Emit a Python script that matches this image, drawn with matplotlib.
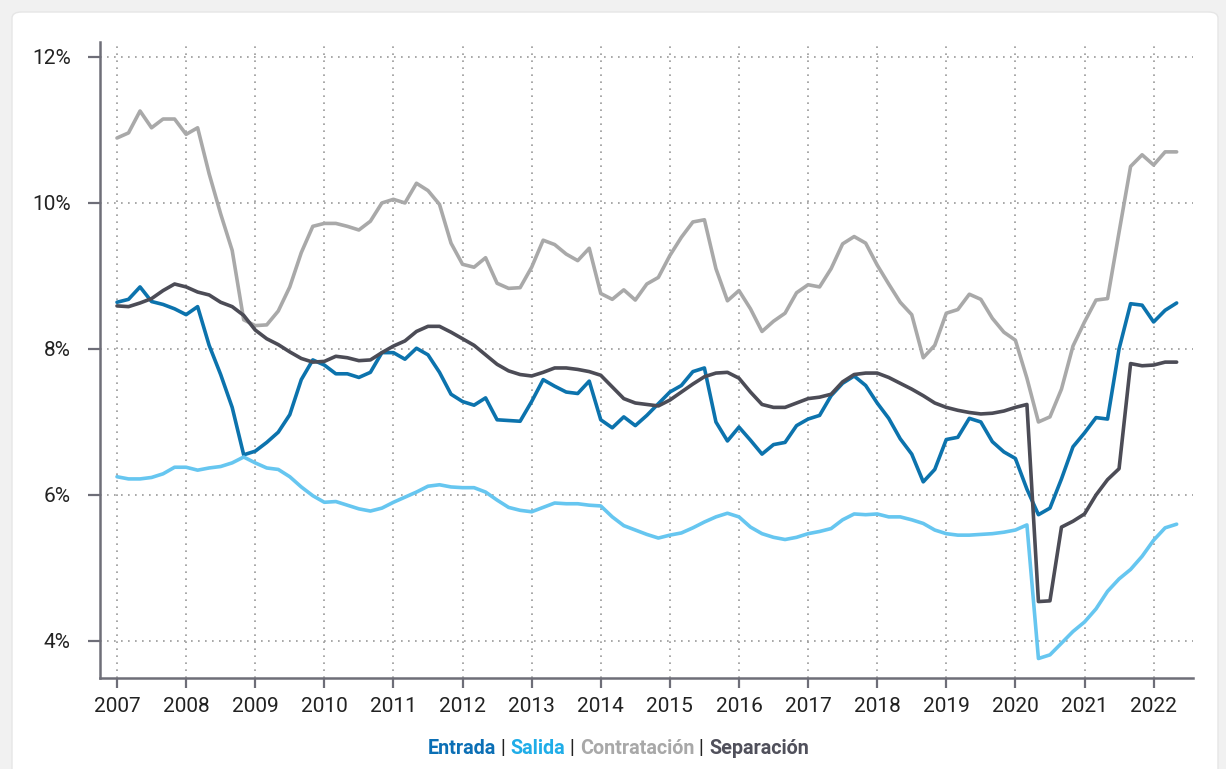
import numpy as np
import pandas as pd
import matplotlib
matplotlib.use("Agg")
import matplotlib.pyplot as plt
from matplotlib.patches import FancyBboxPatch
from matplotlib.offsetbox import TextArea, HPacker, AnchoredOffsetbox

plt.rcParams['font.family'] = ['Roboto', 'DejaVu Sans']

# ---------------- data (bimonthly, Jan 2007 - May 2022) ----------------
dates = pd.date_range('2007-01-01', '2022-05-01', freq='2MS')

entrada = [
    8.64, 8.68, 8.85, 8.65, 8.61, 8.55,
    8.47, 8.58, 8.05, 7.65, 7.20, 6.55,
    6.60, 6.72, 6.86, 7.10, 7.58, 7.85,
    7.78, 7.66, 7.66, 7.61, 7.68, 7.95,
    7.95, 7.86, 8.01, 7.92, 7.68, 7.38,
    7.28, 7.23, 7.33, 7.03, 7.02, 7.01,
    7.28, 7.58, 7.49, 7.41, 7.39, 7.56,
    7.03, 6.92, 7.07, 6.95, 7.09, 7.25,
    7.41, 7.50, 7.69, 7.74, 7.00, 6.74,
    6.93, 6.75, 6.56, 6.69, 6.72, 6.95,
    7.04, 7.09, 7.36, 7.53, 7.63, 7.50,
    7.26, 7.05, 6.77, 6.56, 6.18, 6.35,
    6.76, 6.79, 7.05, 7.00, 6.73, 6.59,
    6.50, 6.08, 5.73, 5.82, 6.22, 6.66,
    6.85, 7.06, 7.04, 8.00, 8.62, 8.60,
    8.37, 8.53, 8.63,
]

salida = [
    6.25, 6.22, 6.22, 6.24, 6.29, 6.38,
    6.38, 6.34, 6.37, 6.39, 6.44, 6.52,
    6.44, 6.37, 6.35, 6.25, 6.11, 5.99,
    5.90, 5.91, 5.86, 5.81, 5.78, 5.82,
    5.90, 5.97, 6.04, 6.12, 6.14, 6.11,
    6.10, 6.10, 6.04, 5.93, 5.83, 5.79,
    5.77, 5.83, 5.89, 5.88, 5.88, 5.86,
    5.85, 5.70, 5.58, 5.52, 5.46, 5.41,
    5.45, 5.48, 5.55, 5.63, 5.70, 5.75,
    5.70, 5.56, 5.47, 5.42, 5.39, 5.42,
    5.47, 5.50, 5.54, 5.66, 5.74, 5.73,
    5.74, 5.70, 5.70, 5.66, 5.61, 5.52,
    5.47, 5.45, 5.45, 5.46, 5.47, 5.49,
    5.52, 5.59, 3.76, 3.81, 3.97, 4.13,
    4.26, 4.44, 4.68, 4.85, 4.98, 5.16,
    5.38, 5.55, 5.60,
]

contratacion = [
    10.89, 10.96, 11.26, 11.03, 11.15, 11.15,
    10.94, 11.03, 10.40, 9.85, 9.35, 8.40,
    8.32, 8.33, 8.52, 8.85, 9.32, 9.68,
    9.72, 9.72, 9.68, 9.63, 9.75, 10.00,
    10.05, 10.00, 10.27, 10.17, 9.98, 9.45,
    9.16, 9.12, 9.25, 8.90, 8.83, 8.84,
    9.12, 9.49, 9.43, 9.30, 9.21, 9.38,
    8.76, 8.68, 8.81, 8.67, 8.89, 8.98,
    9.28, 9.53, 9.74, 9.77, 9.10, 8.66,
    8.80, 8.55, 8.24, 8.38, 8.49, 8.77,
    8.88, 8.85, 9.10, 9.44, 9.54, 9.45,
    9.15, 8.89, 8.64, 8.47, 7.88, 8.05,
    8.49, 8.54, 8.75, 8.68, 8.42, 8.23,
    8.12, 7.60, 7.00, 7.07, 7.45, 8.04,
    8.37, 8.67, 8.69, 9.60, 10.50, 10.66,
    10.52, 10.70, 10.70,
]

separacion = [
    8.59, 8.58, 8.63, 8.69, 8.80, 8.89,
    8.85, 8.78, 8.74, 8.64, 8.58, 8.46,
    8.26, 8.14, 8.06, 7.96, 7.87, 7.82,
    7.83, 7.90, 7.88, 7.84, 7.85, 7.95,
    8.04, 8.11, 8.24, 8.31, 8.31, 8.23,
    8.14, 8.05, 7.92, 7.79, 7.70, 7.65,
    7.63, 7.68, 7.74, 7.74, 7.72, 7.69,
    7.64, 7.48, 7.32, 7.26, 7.24, 7.22,
    7.30, 7.41, 7.52, 7.62, 7.67, 7.68,
    7.60, 7.41, 7.24, 7.20, 7.20, 7.26,
    7.32, 7.34, 7.38, 7.55, 7.65, 7.67,
    7.67, 7.61, 7.53, 7.45, 7.36, 7.26,
    7.20, 7.16, 7.13, 7.11, 7.12, 7.15,
    7.20, 7.24, 4.54, 4.55, 5.56, 5.64,
    5.74, 6.00, 6.21, 6.36, 7.80, 7.77,
    7.78, 7.82, 7.82,
]

series_names = ['Entrada', 'Salida', 'Contratación', 'Separación']
x_ticks = list(range(2007, 2023))
y_ticks = [4, 6, 8, 10, 12]
y_tick_labels = ['4%', '6%', '8%', '10%', '12%']

# ---------------- styling ----------------
line_colors = ['#0c73ad', '#66c6f0', '#a9a9a9', '#4c4c56']
legend_colors = ['#0b6fb5', '#1fade8', '#a8a8a8', '#50505b']

t = dates.year + (dates.month - 1) / 12.0

W, H = 1226, 769
fig = plt.figure(figsize=(W / 100, H / 100), dpi=100, facecolor='#f1f1f1')

panel = FancyBboxPatch((12 / W, -0.05), (1218 - 12) / W, 1 - 12 / H + 0.05,
                       boxstyle='round,pad=0,rounding_size=0.008',
                       transform=fig.transFigure, facecolor='white',
                       edgecolor='#e6e6e6', lw=1.0, zorder=-10)
fig.add_artist(panel)

ax = fig.add_axes([100 / W, 1 - 678 / H, (1193 - 100) / W, (678 - 42) / H])
ax.set_facecolor('none')
ax.set_zorder(1)

for vals, col in zip([entrada, salida, contratacion, separacion], line_colors):
    ax.plot(t, vals, color=col, lw=2.6, solid_joinstyle='round',
            solid_capstyle='round', zorder=3)

ax.set_xlim(2006.754, 2022.57)
ax.set_ylim(3.493, 12.205)

ax.set_xticks(x_ticks)
ax.set_xticklabels([str(y) for y in x_ticks])
ax.set_yticks(y_ticks)
ax.set_yticklabels(y_tick_labels)

ax.grid(True, color='#9a9a9a', linestyle=(0, (1, 3.2)), lw=1.2, zorder=1)

for s in ['top', 'right']:
    ax.spines[s].set_visible(False)
for s in ['left', 'bottom']:
    ax.spines[s].set_color('#6e6e78')
    ax.spines[s].set_linewidth(1.8)

ax.tick_params(axis='y', length=9, width=1.6, color='#6e6e78', pad=12,
               labelsize=15, labelcolor='#222222')
ax.tick_params(axis='x', length=7, width=1.6, color='#6e6e78', pad=7,
               labelsize=15, labelcolor='#222222')

# ---------------- legend line ----------------
parts = []
for i, (name, col) in enumerate(zip(series_names, legend_colors)):
    if i > 0:
        parts.append(TextArea(' | ', textprops=dict(color='#222222', fontsize=14.2)))
    parts.append(TextArea(name, textprops=dict(color=col, fontsize=14.2,
                                               fontweight='bold')))
pack = HPacker(children=parts, align='baseline', pad=0, sep=0)
anch = AnchoredOffsetbox(loc='center', child=pack, frameon=False,
                         bbox_to_anchor=(618 / W, 1 - 748 / H),
                         bbox_transform=fig.transFigure, borderpad=0, pad=0)
ax.add_artist(anch)

fig.savefig('out.png', dpi=100, facecolor=fig.get_facecolor())
